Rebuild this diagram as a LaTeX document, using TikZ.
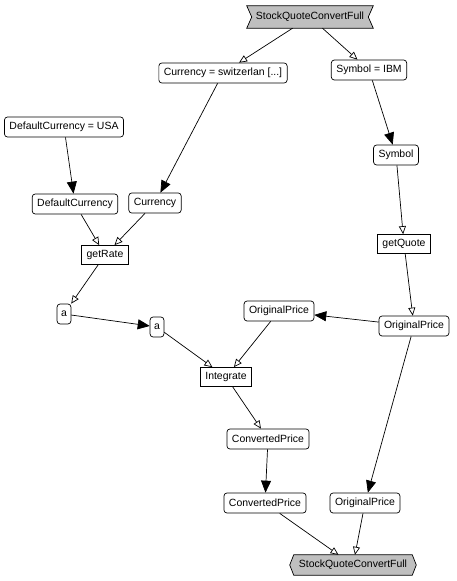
\documentclass[tikz,border=0pt]{standalone}
\usepackage{fontspec}
\setmainfont{Liberation Sans}
\usetikzlibrary{arrows.meta,backgrounds}
\begin{document}
\begin{tikzpicture}[x=1bp,y=-1bp,
  every node/.style={font=\fontsize{10.5}{12}\selectfont, inner xsep=5bp, inner ysep=0bp, minimum height=20bp},
  rbox/.style={draw, rounded corners=3bp, fill=white, line width=0.7bp},
  sbox/.style={draw, fill=white, line width=0.7bp, minimum height=19bp},
  term/.style={minimum height=22bp, inner xsep=9bp},
  termshape/.style={fill=gray!50, line width=0.7bp},
  edge/.style={line width=0.7bp},
  openarr/.style={edge, -{Triangle[open, length=8bp, width=7bp]}},
  fillarr/.style={edge, -{Triangle[length=12bp, width=10bp]}}
]
\useasboundingbox (0,0) rectangle (457,581);

\node[term] (top) at (310,17) {StockQuoteConvertFull};
\node[rbox] (cursw) at (223,73) {Currency = switzerlan [...]};
\node[rbox] (symibm) at (369,70) {Symbol = IBM};
\node[rbox] (dcusa) at (64,127) {DefaultCurrency = USA};
\node[rbox] (sym) at (396,155) {Symbol};
\node[rbox] (dc) at (75,204) {DefaultCurrency};
\node[rbox] (cur) at (155,203) {Currency};
\node[sbox] (getrate) at (105,255) {getRate};
\node[sbox] (getquote) at (404,244) {getQuote};
\node[rbox, inner xsep=4bp] (a1) at (64,314) {a};
\node[rbox, inner xsep=4bp] (a2) at (157,327) {a};
\node[rbox] (opmid) at (279,311) {OriginalPrice};
\node[rbox] (opr) at (414,326) {OriginalPrice};
\node[sbox] (integ) at (226,377) {Integrate};
\node[rbox] (cp1) at (268,439) {ConvertedPrice};
\node[rbox] (cp2) at (265,503) {ConvertedPrice};
\node[rbox] (opb) at (365,503) {OriginalPrice};
\node[term, minimum height=20bp] (bot) at (353,565) {StockQuoteConvertFull};

\begin{scope}[on background layer]
\fill[white] (0,0) rectangle (457,581);
\draw[termshape] (top.north west) -- (top.north east) -- ([xshift=-5bp]top.east) -- (top.south east) -- (top.south west) -- ([xshift=5bp]top.west) -- cycle;
\draw[termshape] ([xshift=4bp]bot.north west) -- ([xshift=-4bp]bot.north east) -- (bot.east) -- ([xshift=-4bp]bot.south east) -- ([xshift=4bp]bot.south west) -- (bot.west) -- cycle;
\end{scope}

\draw[openarr] (top) -- (cursw);
\draw[openarr] (top) -- (symibm);
\draw[fillarr] (cursw) -- (cur);
\draw[fillarr] (symibm) -- (sym);
\draw[fillarr] (dcusa) -- (dc);
\draw[openarr] (dc) -- (getrate);
\draw[openarr] (cur) -- (getrate);
\draw[openarr] (sym) -- (getquote);
\draw[openarr] (getrate) -- (a1);
\draw[fillarr] (a1) -- (a2);
\draw[openarr] (getquote) -- (opr);
\draw[fillarr] (opr) -- (opmid);
\draw[fillarr] (opr) -- (opb);
\draw[openarr] (a2) -- (integ);
\draw[openarr] (opmid) -- (integ);
\draw[openarr] (integ) -- (cp1);
\draw[fillarr] (cp1) -- (cp2);
\draw[openarr] (cp2) -- (bot);
\draw[openarr] (opb) -- (bot);
\end{tikzpicture}
\end{document}
